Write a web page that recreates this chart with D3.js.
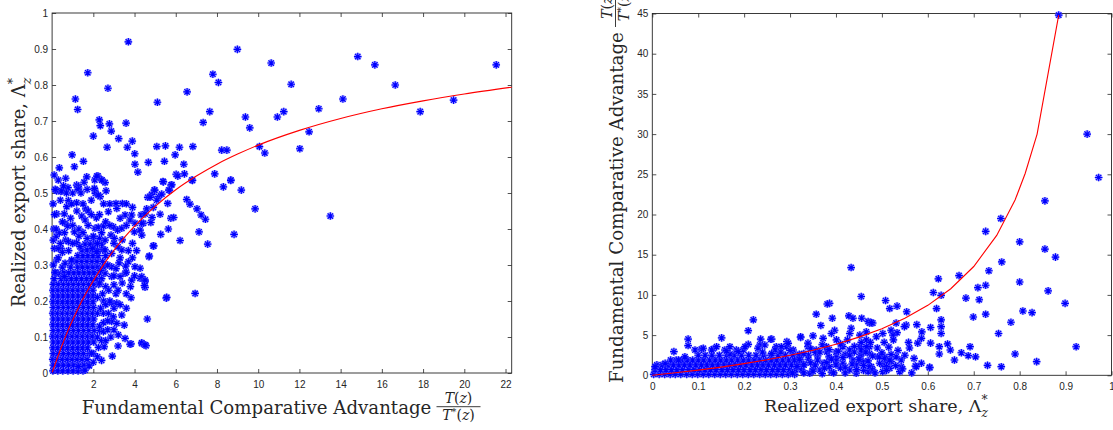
<!DOCTYPE html>
<html>
<head>
<meta charset="utf-8">
<title>Fundamental comparative advantage vs realized export share</title>
<script src="https://cdnjs.cloudflare.com/ajax/libs/d3/7.8.5/d3.min.js"></script>
<style>
	body { margin: 0; background: #fff; }
	.tick text { font-family: "Liberation Sans", Arial, sans-serif; font-size: 10px; fill: #262626; }
	.lbl { font-family: "DejaVu Serif", serif; fill: #262626; }
</style>
</head>
<body>
<svg id="chart" width="1113" height="430"></svg>
<script>

	// ---- left panel: x = T(z)/T*(z), y = realized export share ----
	var leftXTicks = [2, 4, 6, 8, 10, 12, 14, 16, 18, 20, 22];
	var leftYTicks = [0, 0.1, 0.2, 0.3, 0.4, 0.5, 0.6, 0.7, 0.8, 0.9, 1];

	var leftPoints = [
		[3.70,0.920],[1.73,0.834],[1.13,0.761],[1.24,0.732],[2.71,0.791],[2.29,0.703],[2.34,0.687],[2.78,0.692],[2.87,0.672],[3.59,0.694],
		[2.0,0.658],[3.23,0.651],[3.89,0.644],[2.67,0.627],[3.65,0.627],[4.01,0.609],[0.97,0.606],[1.08,0.573],[1.52,0.588],[4.02,0.580],
		[4.16,0.558],[4.67,0.585],[5.11,0.752],[5.08,0.629],[5.50,0.631],[5.45,0.588],[5.40,0.531],[5.97,0.606],[6.18,0.627],[6.39,0.580],
		[6.02,0.552],[6.42,0.553],[6.10,0.547],[6.55,0.781],[6.83,0.629],[6.78,0.536],[7.33,0.696],[7.65,0.726],[7.80,0.830],[8.07,0.807],
		[7.89,0.553],[8.23,0.619],[8.48,0.619],[8.31,0.517],[8.67,0.536],[8.99,0.899],[9.18,0.508],[9.38,0.711],[9.59,0.681],[10.06,0.629],
		[10.32,0.611],[10.63,0.861],[10.93,0.711],[11.24,0.726],[11.6,0.802],[12.02,0.623],[12.47,0.670],[12.94,0.734],[14.11,0.761],[14.83,0.879],
		[15.66,0.856],[16.65,0.80],[17.86,0.726],[19.48,0.758],[21.55,0.856],
		[0.30,0.536],[0.19,0.508],[0.42,0.504],[0.66,0.541],[0.58,0.508],[0.77,0.515],[1.19,0.522],[1.29,0.514],[1.68,0.545],[2.07,0.536],
		[2.07,0.508],[2.10,0.499],[2.23,0.547],[2.42,0.536],[2.57,0.529],[2.62,0.506],[2.33,0.49],[4.64,0.488],[4.83,0.496],[4.96,0.508],
		[5.17,0.49],[5.32,0.497],[5.66,0.508],[5.77,0.522],[6.53,0.482],[6.81,0.535],[8.67,0.535],[5.38,0.532],[5.81,0.523],[4.98,0.508],
		[5.69,0.508],[4.75,0.488],[6.69,0.469],[5.61,0.471],[7.03,0.456],[9.85,0.456],[7.23,0.439],[7.44,0.427],[13.5,0.436],[4.59,0.456],
		[4.91,0.46],[5.08,0.48],[4.85,0.432],[5.24,0.441],[4.43,0.416],[4.79,0.418],[5.76,0.43],[5.9,0.432],[5.64,0.40],[5.27,0.385],
		[7.13,0.392],[8.83,0.385],[6.21,0.368],[7.55,0.358],[4.93,0.353],[4.70,0.323],[4.27,0.263],[4.51,0.254],[4.51,0.238],[5.54,0.208],
		[6.94,0.221],[4.62,0.15],[4.35,0.082],[4.56,0.076],[4.27,0.291],[4.27,0.397],
		[0.22,0.506],[0.47,0.506],[1.27,0.518],[1.27,0.51],[2.05,0.513],[2.24,0.494],[2.17,0.547],[2.41,0.536],[1.19,0.473],[0.79,0.479],
		[0.71,0.462],[0.22,0.442],[0.59,0.442],[1.63,0.456],[1.76,0.45],[2.73,0.448],[3.14,0.457],[3.41,0.471],[3.10,0.471],[3.86,0.439],
		[4.32,0.439],[4.51,0.442],[3.54,0.439],[2.15,0.431],[0.63,0.416],[0.76,0.408],[1.08,0.392],[1.44,0.436],[1.60,0.425],[2.08,0.402],
		[2.24,0.405],[2.50,0.408],[2.97,0.406],[3.18,0.397],[3.38,0.402],[2.86,0.383],[3.02,0.374],[3.78,0.425],[4.02,0.416],[4.35,0.416],
		[3.99,0.392],[4.35,0.383],[2.57,0.369],[0.66,0.369],[0.79,0.365],[0.11,0.346],[0.43,0.346],[1.19,0.362],[1.35,0.351],[1.97,0.346],
		[2.17,0.337],[2.57,0.342],[2.89,0.332],[3.38,0.342],[3.70,0.340],[4.91,0.353],[4.72,0.325],[3.70,0.309],[3.25,0.306],[3.57,0.297],
		[2.89,0.295],[4.02,0.295],[0.63,0.305],[0.95,0.314],[0.30,0.277],[0.59,0.268],[4.35,0.268],[4.51,0.258],[4.48,0.243],[3.86,0.258],
		[3.30,0.268],[3.54,0.277],[2.57,0.277],[2.89,0.268],[3.83,0.209],[5.56,0.210],[2.89,0.194],[3.14,0.194],[2.49,0.166],[2.73,0.166],
		[2.97,0.156],[3.38,0.161],[2.89,0.143],[3.14,0.138],[3.50,0.133],[2.49,0.115],[3.21,0.106],[3.54,0.096],[3.83,0.081],[4.35,0.084],
		[4.51,0.078],[2.92,0.047],[2.25,0.071],[1.27,0.018],[1.60,0.008],[1.92,0.055],[2.53,0.073],[3.78,0.08],
		[0.06,0.369],[0.3,0.346],[0.22,0.314],[0.06,0.30],[0.14,0.28],[0.08,0.40],[0.12,0.44],[0.05,0.47],[0.15,0.51],[0.2,0.38],
		[2.3,0.25],[2.6,0.24],[2.45,0.22],[2.75,0.23],[3.0,0.245],[2.35,0.285],[2.7,0.3],[3.1,0.22],[2.2,0.21],[2.5,0.2],
		[2.3,0.13],[2.5,0.14],[2.35,0.18],[2.6,0.19],[2.2,0.1],[2.4,0.09],[2.7,0.12],
		[0.35,0.39],[0.5,0.42],[0.9,0.43],[1.0,0.41],[1.3,0.40],[1.5,0.39],[1.75,0.41],[1.9,0.44],[2.3,0.44],[2.6,0.42],
		[2.8,0.41],[3.3,0.43],[3.6,0.41],[1.2,0.45],[0.95,0.47],[1.5,0.47],[1.9,0.48],[2.5,0.47],[2.8,0.47],[3.6,0.47],
		[3.9,0.46],[0.4,0.48],[0.7,0.50],[1.0,0.50],[1.4,0.50],[1.7,0.51],[1.55,0.53],[0.1,0.55],[0.35,0.57],[0.55,0.52],
		[3.0,0.36],[3.2,0.35],[3.4,0.37],[3.9,0.36],[4.1,0.34],[3.9,0.32],[3.3,0.32],[3.1,0.29],[3.6,0.28],[4.0,0.27],
		[3.8,0.24],[3.4,0.25],[3.0,0.27],[3.2,0.23],[3.6,0.22],[2.8,0.2],[3.0,0.18],[3.3,0.19],[3.6,0.18],[2.7,0.145],
		[3.0,0.12],[2.6,0.09],[2.85,0.1],[3.2,0.075],[1.8,0.02],[2.0,0.03],[2.2,0.045],[2.4,0.035],[0.3,0.32],[0.5,0.335],
		[0.8,0.34],[1.0,0.36],[0.4,0.36],[1.3,0.38],[0.2,0.4],[0.6,0.39],[2.0,0.38],[2.2,0.36],[2.4,0.39]
	];

	// solid core near the origin, read row by row: [share, [T ratio values]]
	var leftCore = [
		[0.006, [0.04,0.28,0.52,0.77,1.02,1.26,1.5]],
		[0.022, [0.06,0.3,0.55,0.8,1.05,1.3,1.55,1.78]],
		[0.038, [0.03,0.25,0.5,0.74,0.98,1.22,1.46,1.7]],
		[0.054, [0.06,0.3,0.55,0.8,1.04,1.28,1.52,1.8,2.0]],
		[0.07,  [0.04,0.27,0.51,0.75,1.0,1.24,1.48,1.72]],
		[0.086, [0.06,0.3,0.54,0.78,1.02,1.27,1.52,1.76,2.02]],
		[0.102, [0.03,0.26,0.5,0.74,0.98,1.22,1.47,1.72,1.95]],
		[0.118, [0.06,0.3,0.55,0.8,1.04,1.28,1.53,1.78,2.04,2.3]],
		[0.134, [0.04,0.27,0.51,0.75,0.99,1.24,1.48,1.72,1.97]],
		[0.15,  [0.06,0.3,0.54,0.78,1.03,1.27,1.52,1.77,2.02]],
		[0.166, [0.03,0.26,0.5,0.74,0.98,1.23,1.47,1.71,1.96,2.2]],
		[0.182, [0.06,0.3,0.55,0.79,1.03,1.28,1.52,1.77,2.01]],
		[0.198, [0.04,0.27,0.51,0.75,0.99,1.24,1.48,1.72,1.98]],
		[0.214, [0.06,0.3,0.54,0.78,1.02,1.27,1.51,1.76,2.0]],
		[0.23,  [0.04,0.28,0.52,0.76,1.0,1.25,1.5,1.74,1.98]],
		[0.246, [0.06,0.3,0.55,0.79,1.03,1.28,1.52,1.77,2.02,2.26]],
		[0.262, [0.1,0.45,0.7,0.94,1.18,1.43,1.68,1.92,2.15,2.4]],
		[0.278, [0.15,0.57,0.81,1.06,1.3,1.55,1.8,2.04,2.3]],
		[0.294, [0.5,0.9,1.24,1.48,1.73,1.98,2.22,2.5]],
		[0.31,  [0.95,1.2,1.44,1.69,1.94,2.18,2.45]],
		[0.326, [1.25,1.5,1.74,1.99,2.23,2.6]],
		[0.342, [1.45,1.7,1.94,2.2,2.45]],
		[0.358, [1.6,1.85,2.1,2.4]],
		[0.374, [1.7,2.0,2.3]]
	];

	var leftFitX = [0.01,0.25,0.5,0.75,1,1.5,2,2.5,3,3.5,4,5,6,7,8,9,10,12,14,16,18,20,22.3];
	var leftFitY = [0.002,0.041,0.079,0.115,0.147,0.206,0.256,0.301,0.341,0.376,0.408,0.463,0.509,0.547,0.580,0.608,0.633,0.674,0.707,0.734,0.756,0.775,0.794];

	// ---- right panel: x = realized export share, y = T(z)/T*(z) ----
	var rightXTicks = [0, 0.1, 0.2, 0.3, 0.4, 0.5, 0.6, 0.7, 0.8, 0.9, 1];
	var rightYTicks = [0, 5, 10, 15, 20, 25, 30, 35, 40, 45];

	var rightPoints = [
		[0.885,44.8],[0.947,30.0],[0.972,24.6],[0.855,21.7],[0.759,19.5],[0.726,17.9],[0.80,16.6],[0.855,15.7],[0.878,14.7],[0.761,14.1],
		[0.733,13.0],[0.623,12.0],[0.668,12.4],[0.80,11.6],[0.862,10.5],[0.726,11.2],[0.709,10.9],[0.612,10.3],[0.629,9.95],[0.683,9.6],
		[0.712,9.4],[0.899,8.95],[0.455,9.8],[0.508,9.3],[0.517,8.3],[0.533,8.6],[0.554,7.9],[0.619,8.3],[0.699,7.25],[0.726,7.6],
		[0.807,8.0],[0.827,7.8],[0.781,6.6],[0.754,5.2],[0.923,3.55],[0.79,2.65],[0.837,1.7],[0.760,1.07],[0.73,1.24],[0.692,3.56],
		[0.688,2.44],[0.704,2.3],[0.673,2.8],[0.658,1.9],[0.643,3.9],[0.649,3.15],[0.625,3.56],[0.625,2.65],[0.629,6.9],[0.629,6.05],
		[0.629,5.2],[0.606,5.95],[0.606,4.0],[0.587,5.4],[0.586,4.6],[0.576,6.3],[0.558,4.1],[0.578,4.0],[0.553,6.25],[0.549,6.05],
		[0.531,6.5],[0.533,5.3],[0.52,5.6],[0.586,1.5],[0.573,1.15],[0.604,0.95],[0.539,0.45],[0.542,1.07],[0.531,2.3],[0.542,1.9],
		[0.52,1.7],[0.517,0.87],[0.506,2.3],[0.51,1.7],[0.491,2.3],[0.502,0.45],[0.477,1.07],[0.47,0.45],[0.452,1.7],[0.456,2.7],
		[0.452,3.56],[0.473,3.56],[0.466,4.4],[0.473,6.5],[0.48,6.5],[0.456,7.1],[0.488,4.8],[0.502,5.2],[0.524,5.0],[0.466,5.4],
		[0.452,5.0],[0.433,13.4],[0.386,8.95],[0.357,7.6],[0.392,7.1],[0.367,6.2],[0.22,6.9],[0.209,5.55],[0.428,7.4],[0.437,7.1],
		[0.47,6.7],[0.477,6.55],[0.433,5.85],[0.43,5.2],[0.397,5.6],[0.39,5.2],[0.372,4.6],[0.35,4.9],[0.323,4.7],[0.293,4.2],
		[0.26,4.5],[0.236,4.5],[0.151,4.65],[0.078,4.5],[0.078,3.7],[0.047,2.95],[0.107,3.25],[0.133,3.3],[0.158,3.15],[0.169,2.65],
		[0.198,3.15],[0.209,3.85],[0.183,3.15],[0.234,3.77],[0.27,3.56],[0.292,3.56],[0.307,3.15],[0.339,3.56],[0.357,3.15],[0.379,3.56],
		[0.401,4.4],[0.415,3.56],[0.43,3.15],[0.455,3.15],[0.466,3.56],[0.473,2.7],[0.452,2.3],[0.459,1.7],[0.437,1.9],[0.444,1.28],
		[0.401,2.3],[0.415,1.5],[0.495,2.3],[0.506,2.1],[0.517,1.9],[0.502,1.28],[0.51,1.07],[0.473,1.07],[0.48,0.66],[0.43,0.66],
		[0.444,0.25],[0.343,0.25],[0.365,0.66],[0.386,1.07],[0.372,1.5],[0.575,1.07],[0.604,1.0],
		[0.093,3.15],[0.111,3.36],[0.129,3.15],[0.14,3.56],[0.162,3.06],[0.169,3.56],[0.187,2.94],[0.202,3.56],[0.23,3.36],[0.245,3.77],
		[0.267,3.15],[0.281,3.56],[0.296,3.98],[0.071,2.3],[0.057,1.9],[0.028,1.5],[0.006,1.07],[0.323,4.8],[0.339,4.0],[0.381,8.87],
		[0.258,4.48],
		[0.32,2.6],[0.34,2.0],[0.36,2.4],[0.38,2.9],[0.4,1.8],[0.42,2.6],[0.44,2.9],[0.33,1.3],[0.35,0.8],[0.39,0.4],
		[0.41,0.9],[0.42,0.3],[0.46,0.6],[0.33,0.3],[0.31,1.9],[0.345,1.55],[0.37,0.2],[0.4,2.9],[0.355,2.85],[0.385,2.3],
		[0.305,0.3],[0.315,1.1],[0.32,2.0],[0.33,2.7],[0.345,3.3],[0.35,0.5],[0.355,1.3],[0.36,1.9],[0.365,2.9],[0.37,3.8],
		[0.375,0.9],[0.38,1.6],[0.385,3.2],[0.39,2.0],[0.395,0.3],[0.4,1.3],[0.405,3.0],[0.41,3.9],[0.415,2.2],[0.42,1.0],
		[0.425,4.4],[0.43,2.5],[0.435,1.4],[0.44,3.6],[0.445,0.7],[0.45,2.0],[0.455,4.1],[0.46,1.2],[0.465,2.9],[0.47,1.8],
		[0.475,4.1],[0.48,2.4],[0.485,0.3],[0.49,3.4],[0.495,1.5],[0.5,2.8],[0.505,4.1],[0.51,0.6],[0.515,3.5],[0.52,2.6],
		[0.525,4.4],[0.53,1.2],[0.535,3.1],[0.545,0.8],[0.55,2.5],[0.56,3.4],[0.565,0.3],[0.57,2.1],[0.28,2.9],[0.3,3.1],
		[0.26,2.7],[0.24,2.9]
	];

	// solid band along the bottom: [T ratio, [share values]]
	var rightCore = [
		[0.12, [0.003,0.015,0.027,0.039,0.05,0.062,0.075,0.087,0.099,0.111,0.123,0.136,0.148,0.16,0.172,0.185,0.197,0.209,0.221,0.234,0.246,0.258,0.27,0.283,0.296,0.31]],
		[0.7,  [0.006,0.018,0.03,0.042,0.054,0.066,0.079,0.091,0.103,0.115,0.127,0.139,0.152,0.164,0.176,0.188,0.2,0.213,0.225,0.237,0.249,0.262,0.274,0.286,0.299,0.312,0.325]],
		[1.3,  [0.01,0.022,0.034,0.046,0.058,0.07,0.082,0.095,0.107,0.119,0.131,0.143,0.156,0.168,0.18,0.192,0.204,0.217,0.229,0.241,0.253,0.266,0.278,0.29,0.303,0.316,0.33]],
		[1.9,  [0.04,0.052,0.064,0.076,0.088,0.1,0.112,0.125,0.137,0.149,0.161,0.173,0.186,0.198,0.21,0.222,0.234,0.247,0.259,0.271,0.284,0.297,0.31,0.323]],
		[2.5,  [0.1,0.115,0.13,0.146,0.162,0.178,0.194,0.21,0.226,0.242,0.258,0.274,0.29,0.306,0.322,0.34]]
	];

	var rightFitX = [0,0.05,0.1,0.15,0.2,0.25,0.3,0.35,0.4,0.45,0.5,0.55,0.6,0.65,0.7,0.75,0.79,0.812,0.838,0.885];
	var rightFitY = [0,0.31,0.64,1.02,1.45,1.93,2.49,3.12,3.87,4.75,5.8,7.09,8.7,10.77,13.53,17.4,21.8,25.1,30.0,44.8];

	var svg = d3.select("#chart");
	var ink = "#262626";

	var xL = d3.scaleLinear().domain([0, 22.3]).range([52.1, 511.7]);
	var yL = d3.scaleLinear().domain([0, 1]).range([373, 13]);
	var xR = d3.scaleLinear().domain([0, 1]).range([652.3, 1111.5]);
	var yR = d3.scaleLinear().domain([0, 45]).range([375.3, 13.5]);

	// rows are [rowValue, [values]] -> points [value, rowValue]
	function expandCore(rows) {
		var out = [];
		rows.forEach(function(r) {
			r[1].forEach(function(v) { out.push([v, r[0]]); });
		});
		return out;
	}

	function drawAxes(x, y, xt, yt) {
		var x0 = x.range()[0], x1 = x.range()[1], y0 = y.range()[0], y1 = y.range()[1];
		var g = svg.append("g").attr("color", ink);
		g.append("g").attr("transform", "translate(0," + y0 + ")")
			.call(d3.axisBottom(x).tickValues(xt).tickFormat(String).tickSizeInner(-4).tickSizeOuter(0).tickPadding(8))
			.call(function(a) { a.select(".domain").remove(); });
		g.append("g").attr("transform", "translate(" + x0 + ",0)")
			.call(d3.axisLeft(y).tickValues(yt).tickFormat(String).tickSizeInner(-4).tickSizeOuter(0).tickPadding(4))
			.call(function(a) { a.select(".domain").remove(); });
		g.append("g").attr("transform", "translate(0," + y1 + ")")
			.call(d3.axisTop(x).tickValues(xt).tickFormat("").tickSizeInner(-4).tickSizeOuter(0))
			.call(function(a) { a.select(".domain").remove(); });
		g.append("g").attr("transform", "translate(" + x1 + ",0)")
			.call(d3.axisRight(y).tickValues(yt).tickFormat("").tickSizeInner(-4).tickSizeOuter(0))
			.call(function(a) { a.select(".domain").remove(); });
		g.selectAll(".tick line").attr("stroke-width", 0.8);
		g.append("rect")
			.attr("x", x0).attr("y", y1).attr("width", x1 - x0).attr("height", y0 - y1)
			.attr("fill", "none").attr("stroke", ink).attr("stroke-width", 0.9);
	}

	function drawStars(pts, x, y) {
		var g = svg.append("g");
		var m = g.selectAll("g").data(pts).join("g")
			.attr("transform", function(d) { return "translate(" + x(d[0]) + "," + y(d[1]) + ")"; });
		m.append("circle").attr("r", 3.8).attr("fill", "#5a5aff").attr("opacity", 0.55);
		m.append("path")
			.attr("d", "M-3.8,0H3.8M0,-3.8V3.8M-2.7,-2.7L2.7,2.7M-2.7,2.7L2.7,-2.7")
			.attr("fill", "none").attr("stroke", "#0000ff").attr("stroke-width", 1.15);
	}

	function drawFit(xs, ys, x, y, curve) {
		var line = d3.line()
			.x(function(d, i) { return x(xs[i]); })
			.y(function(d, i) { return y(ys[i]); })
			.curve(curve);
		svg.append("path").datum(xs)
			.attr("fill", "none").attr("stroke", "#ff0000").attr("stroke-width", 1.1)
			.attr("d", line);
	}

	function fitWidth(t, target) {
		var len = t.node().getComputedTextLength();
		var fs = parseFloat(t.attr("font-size"));
		t.attr("font-size", (fs * target / len).toFixed(2));
	}

	function shareLabel(t) {
		t.append("tspan").text("Realized export share, Λ");
		t.append("tspan").attr("font-size", "0.7em").attr("dy", "-0.6em").text("*");
		t.append("tspan").attr("font-size", "0.7em").attr("font-style", "italic")
			.attr("dx", "-0.5em").attr("dy", "1.05em").text("z");
	}

	function ratioFrac(g, cx, yMid, w) {
		var num = g.append("text").attr("class", "lbl").attr("x", cx).attr("y", yMid - 3.5)
			.attr("text-anchor", "middle").attr("font-size", 14);
		num.append("tspan").attr("font-style", "italic").text("T");
		num.append("tspan").text("(");
		num.append("tspan").attr("font-style", "italic").text("z");
		num.append("tspan").text(")");
		g.append("line").attr("x1", cx - w / 2).attr("x2", cx + w / 2).attr("y1", yMid).attr("y2", yMid)
			.attr("stroke", ink).attr("stroke-width", 0.9);
		var den = g.append("text").attr("class", "lbl").attr("x", cx).attr("y", yMid + 13.5)
			.attr("text-anchor", "middle").attr("font-size", 14);
		den.append("tspan").attr("font-style", "italic").text("T");
		den.append("tspan").attr("font-size", "0.7em").attr("dy", "-0.5em").text("*");
		den.append("tspan").attr("dy", "0.35em").text("(");
		den.append("tspan").attr("font-style", "italic").text("z");
		den.append("tspan").text(")");
	}

	// left panel
	drawAxes(xL, yL, leftXTicks, leftYTicks);
	drawStars(expandCore(leftCore).concat(leftPoints), xL, yL);
	drawFit(leftFitX, leftFitY, xL, yL, d3.curveMonotoneX);

	var lx = svg.append("text").attr("class", "lbl").attr("x", 81.7).attr("y", 414).attr("font-size", 18)
		.text("Fundamental Comparative Advantage");
	fitWidth(lx, 350);
	ratioFrac(svg.append("g"), 458.5, 406.7, 44);

	var ly = svg.append("g").attr("transform", "translate(25,192.5) rotate(-90)")
		.append("text").attr("class", "lbl").attr("text-anchor", "middle").attr("font-size", 18);
	shareLabel(ly);
	fitWidth(ly, 236);

	// right panel
	drawAxes(xR, yR, rightXTicks, rightYTicks);
	drawStars(expandCore(rightCore).concat(rightPoints), xR, yR);
	drawFit(rightFitX, rightFitY, xR, yR, d3.curveLinear);

	var rx = svg.append("text").attr("class", "lbl").attr("x", 764).attr("y", 411.7).attr("font-size", 18);
	shareLabel(rx);
	fitWidth(rx, 230);

	var ry = svg.append("g").attr("transform", "translate(623,383) rotate(-90)");
	var ryt = ry.append("text").attr("class", "lbl").attr("x", 0).attr("y", 0).attr("font-size", 18)
		.text("Fundamental Comparative Advantage");
	fitWidth(ryt, 351);
	ratioFrac(ry, 378, -7.5, 44);

</script>
</body>
</html>
